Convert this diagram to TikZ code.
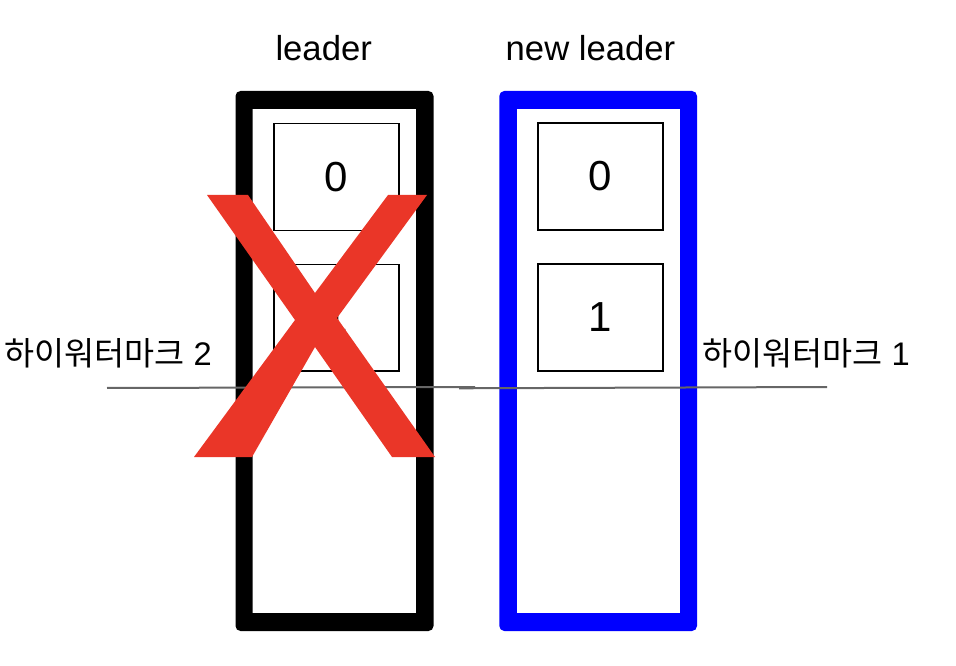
\documentclass[tikz,border=0pt]{standalone}
\usepackage{fontspec}
\setmainfont{Liberation Sans}
\newfontfamily\krfont{Noto Sans CJK KR}
\begin{document}
\begin{tikzpicture}[x=0.75pt,y=-0.75pt,
  cellbox/.style={draw=black,line width=1.2pt,minimum width=93.75pt,minimum height=80pt,inner sep=0pt,font=\fontsize{31.5}{32}\selectfont},
  headlabel/.style={inner sep=0pt,font=\fontsize{26}{28}\selectfont},
  hwlabel/.style={inner sep=0pt,anchor=base west,font=\fontsize{24.5}{26}\selectfont},
  hwline/.style={draw=black!60,line width=1.5pt}]
\useasboundingbox (0,0) rectangle (956,666);
% leader column
\coordinate (lA) at (235.5,91);
\coordinate (lB) at (433.5,631);
\fill[black,even odd rule] [rounded corners=3.75pt] (235.5,91) rectangle (433.5,631)
  [sharp corners] (252.5,109) rectangle (416,613);
\node[cellbox] (l0) at (336.3,177) {0};
\node[cellbox] (l1) at (336.3,317.8) {1};
% new leader column
\coordinate (nA) at (499.3,91);
\coordinate (nB) at (697,631);
\fill[blue,even odd rule] [rounded corners=3.75pt] (499.3,91) rectangle (697,631)
  [sharp corners] (516.8,109) rectangle (680,613);
\node[cellbox] (n0) at (600.2,176.5) {0};
\node[cellbox] (n1) at (600.2,317.5) {1};
% header labels
\node[headlabel] (hl) at (323.7,48.5) {leader};
\node[headlabel] (hn) at (590.5,48.5) {new leader};
% high watermark line
\coordinate (w1) at (107,388);
\coordinate (w2) at (475,387);
\coordinate (w3) at (459,388.3);
\coordinate (w4) at (827,387);
\draw[hwline] (w1) -- (w2);
\draw[hwline] (w3) -- (w4);
% red X
\fill[fill={rgb,255:red,234;green,54;blue,40}]
  (207,195) -- (248,195) -- (315,293) -- (388,195) -- (427,195) -- (337,318)
  -- (435,457) -- (392,457) -- (315,347) -- (252,457) -- (194,457) -- (295,320) -- cycle;
% watermark labels
\node[hwlabel] (hw2) at (4,365) {{\krfont 하이워터마크} 2};
\node[hwlabel] (hw1) at (702,365) {{\krfont 하이워터마크} 1};
\end{tikzpicture}
\end{document}
